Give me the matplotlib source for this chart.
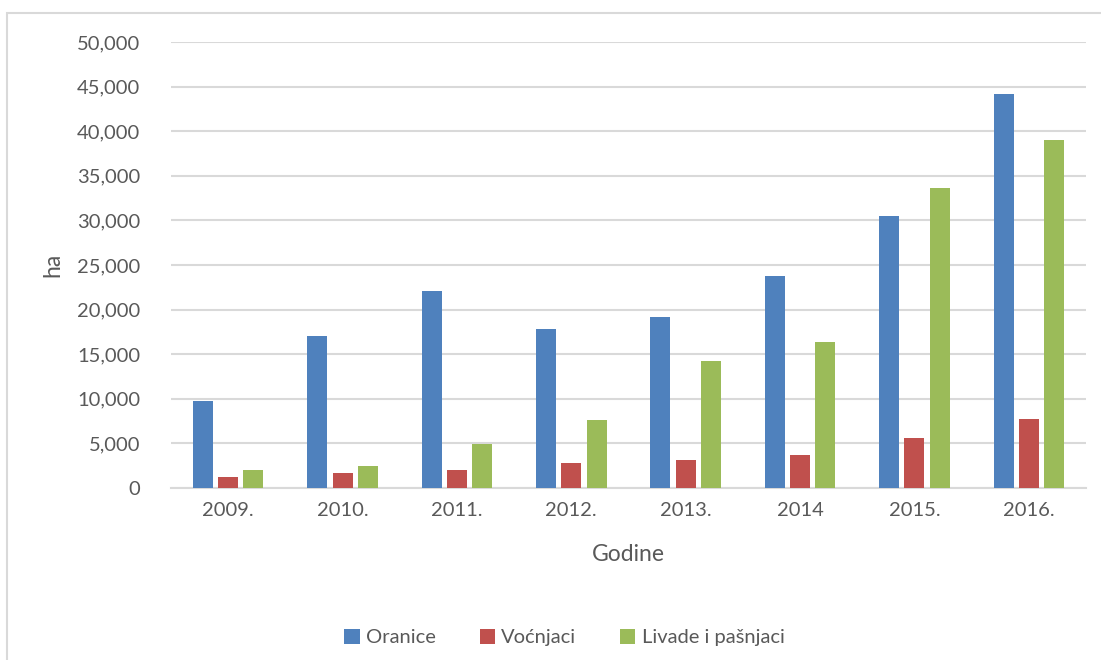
import numpy as np
import matplotlib.pyplot as plt
from matplotlib.patches import Rectangle
from matplotlib.ticker import FuncFormatter

# =================================
# DATA
# =================================

years = ["2009.", "2010.", "2011.", "2012.", "2013.", "2014", "2015.", "2016."]
oranice = [9750, 17030, 22100, 17780, 19160, 23780, 30450, 44200]
vocnjaci = [1200, 1730, 2020, 2810, 3180, 3700, 5570, 7750]
livade = [1990, 2440, 4900, 7600, 14280, 16330, 33600, 39050]

series = [
    ("Oranice", oranice, "#4F81BD"),
    ("Voćnjaci", vocnjaci, "#C0504D"),
    ("Livade i pašnjaci", livade, "#9BBB59"),
]

text_color = "#595959"
grid_color = "#D9D9D9"
plt.rcParams["font.family"] = ["Lato", "DejaVu Sans"]

# =================================
# CHART
# =================================

fig = plt.figure(figsize=(11.01, 6.6), dpi=100)
ax = fig.add_axes([171 / 1101, 1 - 488 / 660, 915 / 1101, 446 / 660])

# outer chart border
fig.patches.append(Rectangle((7 / 1101, -0.1), 1.2, 1 - 13 / 660 + 0.1,
                             transform=fig.transFigure, fill=False,
                             edgecolor="#D9D9D9", linewidth=1.5))

x = np.arange(len(years))
width = 0.175
step = 0.221

for i, (name, values, color) in enumerate(series):
    ax.bar(x + (i - 1) * step, values, width, color=color, label=name,
           zorder=3)

ax.set_xlim(-0.5, len(years) - 0.5)
ax.set_ylim(0, 50000)
ax.set_yticks(np.arange(0, 50001, 5000))
ax.yaxis.set_major_formatter(FuncFormatter(lambda v, p: f"{int(v):,}"))
ax.set_xticks(x)
ax.set_xticklabels(years)

ax.grid(axis="y", color=grid_color, linewidth=1.5, zorder=0)
for side in ["top", "right", "left"]:
    ax.spines[side].set_visible(False)
ax.spines["bottom"].set_color(grid_color)
ax.spines["bottom"].set_linewidth(1.5)
ax.tick_params(axis="both", length=0, labelsize=14.5, colors=text_color)
ax.tick_params(axis="y", pad=22)
ax.tick_params(axis="x", pad=10)

ax.set_ylabel("ha", fontsize=16.5, color=text_color, labelpad=10)
ax.set_xlabel("Godine", fontsize=16.5, color=text_color, labelpad=18)

ax.legend(loc="upper center", bbox_to_anchor=(0.43, -0.275), ncol=3,
          frameon=False, fontsize=14.5, labelcolor=text_color,
          handlelength=0.75, handleheight=0.75, handletextpad=0.3,
          columnspacing=2.2)

plt.savefig("out.png", dpi=100)
